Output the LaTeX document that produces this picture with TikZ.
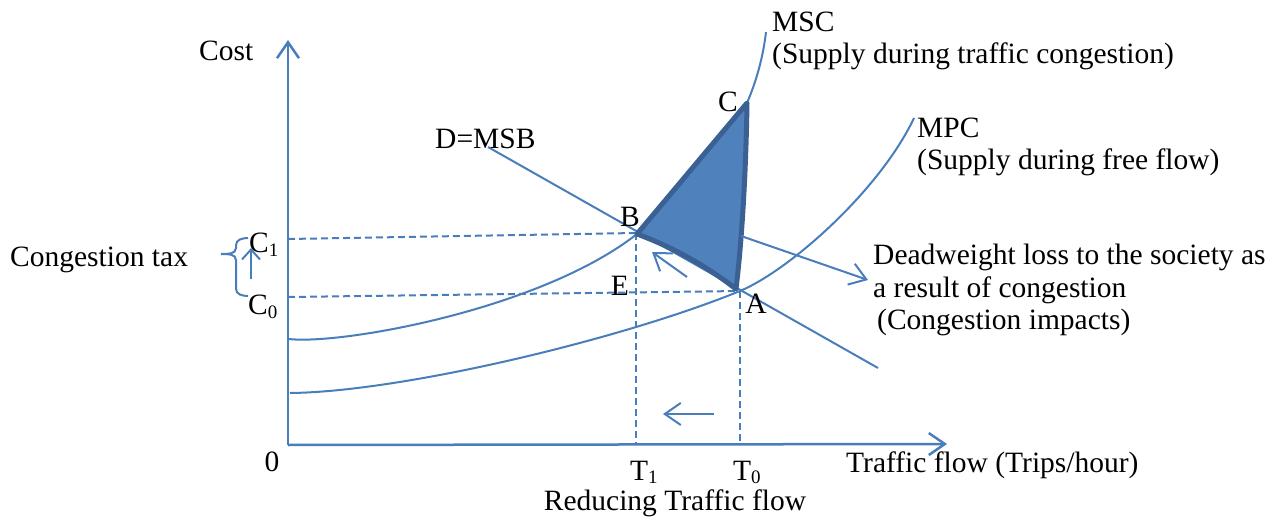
\documentclass[tikz,border=0pt]{standalone}
\usepackage{fontspec}
\setmainfont{Liberation Serif}
\usetikzlibrary{arrows.meta}
\definecolor{ln}{HTML}{4A7EBB}
\definecolor{fillb}{HTML}{4F81BD}
\definecolor{edgeb}{HTML}{3B6093}
\newcommand{\lsub}[1]{\raisebox{-0.12em}{\fontsize{19}{19}\selectfont #1}}
\begin{document}
\begin{tikzpicture}[x=1pt,y=-1pt,
  txt/.style={inner sep=0pt, font=\fontsize{29.5}{33}\selectfont, text=black},
  curve/.style={draw=ln, line width=2pt},
  dsh/.style={draw=ln, line width=2pt, dash pattern=on 7pt off 4pt},
  arr/.style={curve, -{Straight Barb[length=16pt,width=22pt]}},
  sarr/.style={curve, -{Straight Barb[length=10pt,width=18pt]}},
]
\useasboundingbox (0,0) rectangle (1268,518);

% key points
\coordinate (O) at (288,445);
\coordinate (Ytip) at (288,40);
\coordinate (Xtip) at (947,444);
\coordinate (B) at (636,233);
\coordinate (A) at (740,291);
\coordinate (Bt) at (637,234);
\coordinate (At) at (736,289);
\coordinate (C) at (747,103);
\coordinate (C1y) at (288,239);
\coordinate (C0y) at (288,297);
\coordinate (T1x) at (636,444);
\coordinate (T0x) at (740,444);
\coordinate (Dstart) at (488,147);
\coordinate (Dend) at (878,368);
\coordinate (MSCs) at (289,339);
\coordinate (MSCe) at (766,32);
\coordinate (MPCs) at (290,393);
\coordinate (MPCe) at (914,118);

% axes
\draw[arr, line width=2.5pt] (O) -- (Ytip);
\draw[arr, line width=2.5pt] (O) -- (Xtip);

% dashed guides
\draw[dsh] (C1y) -- (B);
\draw[dsh] (C0y) -- (A);
\draw[dsh] (B) -- (T1x);
\draw[dsh] (A) -- (T0x);

% demand
\draw[curve] (Dstart) -- (Dend);

% MSC
\draw[curve] (MSCs) .. controls (340,345) and (540,310) .. (Bt)
  -- (C) .. controls (756,82) and (763,58) .. (MSCe);

% MPC
\draw[curve] (MPCs) .. controls (400,392) and (620,340) .. (A)
  .. controls (790,270) and (880,190) .. (MPCe);

% deadweight triangle
\filldraw[fill=fillb, draw=edgeb, line width=5pt, line join=round]
  (Bt) -- (C) .. controls (746,170) and (742,240) .. (At)
  .. controls (705,265) and (672,247) .. cycle;

% arrows
\coordinate (dwS) at (741,236);
\coordinate (dwE) at (868,280);
\draw[arr] (dwS) -- (dwE);
\coordinate (baS) at (687,277);
\coordinate (baE) at (652,252);
\draw[arr] (baS) -- (baE);
\coordinate (rtS) at (714,414);
\coordinate (rtE) at (663,414);
\draw[arr] (rtS) -- (rtE);
\coordinate (ctS) at (251,279);
\coordinate (ctE) at (251,248);
\draw[sarr] (ctS) -- (ctE);

% brace
\coordinate (brTop) at (248,238);
\coordinate (brBot) at (248,296);
\coordinate (brTip) at (221,254);
\draw[curve] (brTop) to[out=180,in=90] (236,245) -- (236,248) to[out=-90,in=0] (brTip);
\draw[curve] (brTip) to[out=0,in=90] (236,260) -- (236,289) to[out=-90,in=180] (brBot);

% labels
\node[txt, anchor=base west] (cost) at (199,61) {Cost};
\node[txt, anchor=base west] (msc) at (772,32) {MSC};
\node[txt, anchor=base west] (mscs) at (772,64) {(Supply during traffic congestion)};
\node[txt, anchor=base west] (mpc) at (917,138) {MPC};
\node[txt, anchor=base west] (mpcs) at (917,170) {(Supply during free flow)};
\node[txt, anchor=base west] (dmsb) at (435,149) {D=MSB};
\node[txt] (lB) at (630,217) {B};
\node[txt] (lC) at (728,102) {C};
\node[txt] (lE) at (620,286) {E};
\node[txt] (lA) at (756,304) {A};
\node[txt, anchor=base west] (lC1) at (249,253) {C\lsub{1}};
\node[txt, anchor=base west] (lC0) at (248,315) {C\lsub{0}};
\node[txt, anchor=base west] (ctax) at (10,267) {Congestion tax};
\node[txt] (zero) at (272,462) {0};
\node[txt, anchor=base west] (lT1) at (630,480) {T\lsub{1}};
\node[txt, anchor=base west] (lT0) at (733,480) {T\lsub{0}};
\node[txt, anchor=base] (red) at (675,510) {Reducing Traffic flow};
\node[txt, anchor=base west] (tf) at (846,472) {Traffic flow (Trips/hour)};
\node[txt, anchor=base west] (dw1) at (873,265) {Deadweight loss to the society as};
\node[txt, anchor=base west] (dw2) at (873,298) {a result of congestion};
\node[txt, anchor=base west] (dw3) at (877,330) {(Congestion impacts)};
\end{tikzpicture}
\end{document}
